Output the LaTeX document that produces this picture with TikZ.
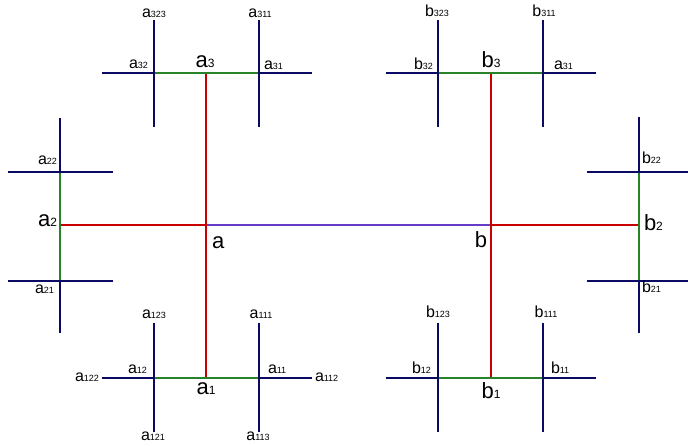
\documentclass[tikz,border=0pt]{standalone}
\usepackage{fontspec}
\setmainfont{Liberation Sans}
\usetikzlibrary{calc}
\definecolor{navyc}{RGB}{10,10,100}
\definecolor{greenc}{RGB}{40,130,40}
\definecolor{redc}{RGB}{200,0,0}
\definecolor{purplec}{RGB}{100,60,200}
\newcommand{\smlab}[2]{{\fontsize{16}{16}\selectfont #1}{\fontsize{9}{9}\selectfont #2}}
\newcommand{\bglab}[2]{{\fontsize{22}{22}\selectfont #1}{\fontsize{12}{12}\selectfont #2}}
\begin{document}
\begin{tikzpicture}[x=1pt,y=-1pt,
  nv/.style={navyc,line width=2.4pt},
  gr/.style={greenc,line width=2.4pt},
  rd/.style={redc,line width=2.2pt},
  pu/.style={purplec,line width=2pt},
  lbl/.style={inner sep=0pt,outer sep=0pt,text=black}]
\useasboundingbox (0,0) rectangle (688,446);
% junctions
\coordinate (a) at (206,225);
\coordinate (b) at (491,225);
\coordinate (a1) at (206,378); \coordinate (a11) at (259,378); \coordinate (a12) at (154,378);
\coordinate (a3) at (206,73);  \coordinate (a31) at (259,73);  \coordinate (a32) at (154,73);
\coordinate (a2) at (60,225);  \coordinate (a21) at (60,281);  \coordinate (a22) at (60,172);
\coordinate (b1) at (491,378); \coordinate (b11) at (543,378); \coordinate (b12) at (438,378);
\coordinate (b3) at (491,73);  \coordinate (b31) at (543,73);  \coordinate (b32) at (438,73);
\coordinate (b2) at (639,225); \coordinate (b21) at (639,281); \coordinate (b22) at (639,172);
% purple and red
\draw[pu] (a) -- (b);
\draw[rd] (a3) -- (a1);
\draw[rd] (a2) -- (a);
\draw[rd] (b3) -- (b1);
\draw[rd] (b) -- (b2);
% navy through lines
\draw[nv] ($(a32)+(-52,0)$) -- ($(a31)+(53,0)$);
\draw[nv] ($(a12)+(-52,0)$) -- ($(a11)+(53,0)$);
\draw[nv] ($(b32)+(-52,0)$) -- ($(b31)+(53,0)$);
\draw[nv] ($(b12)+(-52,0)$) -- ($(b11)+(53,0)$);
\draw[nv] ($(a22)+(0,-54)$) -- ($(a21)+(0,52)$);
\draw[nv] ($(b22)+(0,-55)$) -- ($(b21)+(0,52)$);
% green
\draw[gr] (a32) -- (a31);
\draw[gr] (a12) -- (a11);
\draw[gr] (b32) -- (b31);
\draw[gr] (b12) -- (b11);
\draw[gr] (a22) -- (a21);
\draw[gr] (b22) -- (b21);
% navy cross lines
\foreach \p in {a32,a31,b32,b31} {
  \draw[nv] ($(\p)+(0,-53)$) -- ($(\p)+(0,54)$);
}
\foreach \p in {a12,a11,b12,b11} {
  \draw[nv] ($(\p)+(0,-55)$) -- ($(\p)+(0,54)$);
}
\foreach \p in {a22,a21} {
  \draw[nv] ($(\p)+(-52,0)$) -- ($(\p)+(53,0)$);
}
\foreach \p in {b22,b21} {
  \draw[nv] ($(\p)+(-52,0)$) -- ($(\p)+(49,0)$);
}
% labels top a
\node[lbl,anchor=base] (la323) at (154,18) {\smlab{a}{323}};
\node[lbl,anchor=base] (la311) at (260,18) {\smlab{a}{311}};
\node[lbl,anchor=base east] (la32) at (148,69) {\smlab{a}{32}};
\node[lbl,anchor=base] (la3) at (205,68) {\bglab{a}{3}};
\node[lbl,anchor=base west] (la31) at (264,70) {\smlab{a}{31}};
% labels top b
\node[lbl,anchor=base] (lb323) at (437,17) {\smlab{b}{323}};
\node[lbl,anchor=base] (lb311) at (544,17) {\smlab{b}{311}};
\node[lbl,anchor=base east] (lb32) at (433,70) {\smlab{b}{32}};
\node[lbl,anchor=base] (lb3) at (491,68) {\bglab{b}{3}};
\node[lbl,anchor=base west] (lb31) at (554,70) {\smlab{a}{31}};
% left group
\node[lbl,anchor=base east] (la22) at (57,165) {\smlab{a}{22}};
\node[lbl,anchor=base east] (la2) at (57,227) {\bglab{a}{2}};
\node[lbl,anchor=base east] (la21) at (54,294) {\smlab{a}{21}};
% centre
\node[lbl,anchor=base west] (la) at (212,249) {\bglab{a}{}};
\node[lbl,anchor=base east] (lb) at (487,248) {\bglab{b}{}};
% right group
\node[lbl,anchor=base west] (lb22) at (642,164) {\smlab{b}{22}};
\node[lbl,anchor=base west] (lb2) at (644,231) {\bglab{b}{2}};
\node[lbl,anchor=base west] (lb21) at (642,293) {\smlab{b}{21}};
% bottom a
\node[lbl,anchor=base] (la123) at (154,319) {\smlab{a}{123}};
\node[lbl,anchor=base] (la111) at (261,319) {\smlab{a}{111}};
\node[lbl,anchor=base east] (la12) at (147,373) {\smlab{a}{12}};
\node[lbl,anchor=base west] (la11) at (268,373) {\smlab{a}{11}};
\node[lbl,anchor=base east] (la122) at (99,381) {\smlab{a}{122}};
\node[lbl,anchor=base west] (la112) at (315,381) {\smlab{a}{112}};
\node[lbl,anchor=base] (la1) at (206,394) {\bglab{a}{1}};
\node[lbl,anchor=base] (la121) at (153,440) {\smlab{a}{121}};
\node[lbl,anchor=base] (la113) at (258,440) {\smlab{a}{113}};
% bottom b
\node[lbl,anchor=base] (lb123) at (438,318) {\smlab{b}{123}};
\node[lbl,anchor=base] (lb111) at (546,318) {\smlab{b}{111}};
\node[lbl,anchor=base east] (lb12) at (431,373) {\smlab{b}{12}};
\node[lbl,anchor=base west] (lb11) at (551,373) {\smlab{b}{11}};
\node[lbl,anchor=base] (lb1) at (491,398) {\bglab{b}{1}};
\end{tikzpicture}
\end{document}
